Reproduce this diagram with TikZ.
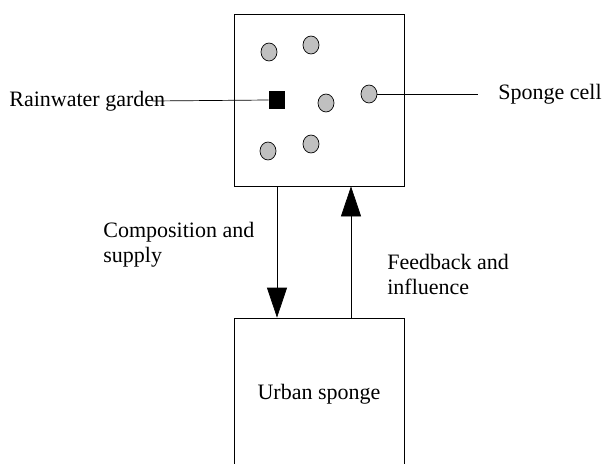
\documentclass[tikz,border=0pt]{standalone}
\usepackage{fontspec}
\setmainfont{Liberation Serif}
\usetikzlibrary{positioning,shapes.geometric,arrows.meta}
\definecolor{cellgray}{RGB}{192,192,192}
\tikzset{
  spongepic/.style={
    x=1pt,y=-1pt
    ,line width=.7pt
    ,font=\fontsize{22}{25}\selectfont
  }
  ,bounder/.style={draw=black,rectangle,inner sep=0pt}
  ,zonebox/.style={bounder,minimum width=170pt}
  ,cell/.style={ellipse,draw=black,fill=cellgray
    ,minimum width=16pt,minimum height=18pt,inner sep=0pt}
  ,gardenbox/.style={rectangle,fill=black
    ,minimum width=16pt,minimum height=18pt,inner sep=0pt}
  ,lbl/.style={inner sep=0pt,align=left}
  ,flow/.style={-{Triangle[length=30pt,width=20pt]}}
}
\begin{document}
\begin{tikzpicture}[spongepic]
    \clip (0,0) rectangle (604,463);

    % sponge cells
    \node[zonebox,minimum height=172pt] (topbox) at (319,100) {};
    \node[cell] (cell1) at (269,52) {};
    \node[cell] (cell2) at (311,45) {};
    \node[cell] (cell3) at (326,103) {};
    \node[cell] (cell4) at (369,94) {};
    \node[cell] (cell5) at (268,151) {};
    \node[cell] (cell6) at (311,144) {};
    \node[gardenbox] (garden) at (277,100) {};

    % urban sponge
    \node[zonebox,minimum height=152pt] (urban) at (319,394) {Urban sponge};

    % labels
    \node[lbl,anchor=west] (rainlbl) at (9,101) {Rainwater garden};
    \node[lbl,anchor=west] (celllbl) at (498,94) {Sponge cell};
    \node[lbl,anchor=west] (complbl) at (103,245) {Composition and\\supply};
    \node[lbl,anchor=west] (feedlbl) at (387,274) {Feedback and\\influence};

    \draw ([xshift=-13pt]rainlbl.east) -- (garden.west);
    \draw (cell4.east) -- ([xshift=-20pt]celllbl.west);

    \draw[flow] ([xshift=-42pt]topbox.south) -- ([xshift=-42pt]urban.north);
    \draw[flow] ([xshift=32pt]urban.north) -- ([xshift=32pt]topbox.south);
\end{tikzpicture}
\end{document}
